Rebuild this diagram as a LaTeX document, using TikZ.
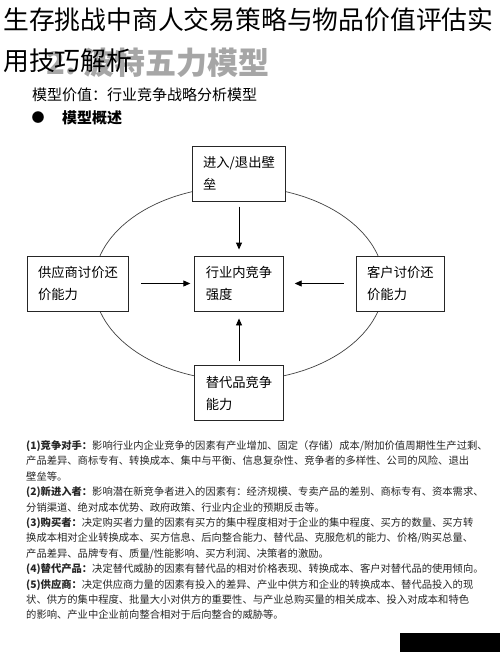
\documentclass[tikz,border=0pt]{standalone}
\usepackage{fontspec}
\setmainfont{Noto Sans CJK SC}
\usepackage{xcolor}
\usetikzlibrary{positioning, arrows.meta}

\begin{document}
\begin{tikzpicture}[
  x=1pt, y=-1pt,
  box/.style={draw=black!85, line width=0.9pt, fill=white, align=left, font=\fontsize{13.3}{22}\selectfont, inner xsep=11pt, inner ysep=0pt, minimum height=55pt},
  arr/.style={-{Triangle[length=7pt, width=6pt]}, line width=0.9pt},
  ring/.style={draw=black!75, line width=0.7pt},
  plain/.style={anchor=west, inner sep=0pt},
  para/.style={anchor=north west, inner sep=0pt, align=left, text=black!85, font=\fontsize{10.3}{15.4}\selectfont}
]
  \useasboundingbox (0,0) rectangle (500,652);
  \node[plain, anchor=east, text=black!35, font=\fontsize{31}{31}\selectfont\bfseries] (mark) at (270,63) {2.\ 波特五力模型};
  \node[plain, font=\fontsize{25.8}{26}\selectfont] (title) at (3,20) {生存挑战中商人交易策略与物品价值评估实};
  \node[plain, font=\fontsize{25.8}{26}\selectfont] (subtitle) at (3,61) {用技巧解析};
  \node[plain, font=\fontsize{15}{15}\selectfont] (value) at (32,95) {模型价值：行业竞争战略分析模型};
  \node[inner sep=0pt, font=\fontsize{13}{13}\selectfont] (dot) at (38,118) {●};
  \node[plain, font=\fontsize{15}{15}\selectfont\bfseries] (overview) at (62,118) {模型概述};

  \node[box] (core) at (239,283.5) {行业内竞争\\强度};
  \draw[ring] (core) ellipse [x radius=145pt, y radius=97pt];
  \node[box, above=54pt of core] (entry) {进入/退出壁\\垒};
  \node[box, below=54pt of core] (substitute) {替代品竞争\\能力};
  \node[box, left=65pt of core] (supplier) {供应商讨价还\\价能力};
  \node[box, right=72pt of core] (buyer) {客户讨价还\\价能力};
  \draw[arr, shorten <=5pt, shorten >=6pt] (entry) -- (core);
  \draw[arr, shorten <=4pt, shorten >=7pt] (substitute) -- (core);
  \draw[arr, shorten <=12pt, shorten >=4pt] (supplier) -- (core);
  \draw[arr, shorten <=12pt, shorten >=11pt] (buyer) -- (core);

  \node[para] (notes) at (26,440.5) {\textbf{(1)竞争对手：}影响行业内企业竞争的因素有产业增加、固定（存储）成本/附加价值周期性生产过剩、\\
    产品差异、商标专有、转换成本、集中与平衡、信息复杂性、竞争者的多样性、公司的风险、退出\\
    壁垒等。\\
    \textbf{(2)新进入者：}影响潜在新竞争者进入的因素有：经济规模、专卖产品的差别、商标专有、资本需求、\\
    分销渠道、绝对成本优势、政府政策、行业内企业的预期反击等。\\
    \textbf{(3)购买者：}决定购买者力量的因素有买方的集中程度相对于企业的集中程度、买方的数量、买方转\\
    换成本相对企业转换成本、买方信息、后向整合能力、替代品、克服危机的能力、价格/购买总量、\\
    产品差异、品牌专有、质量/性能影响、买方利润、决策者的激励。\\
    \textbf{(4)替代产品：}决定替代威胁的因素有替代品的相对价格表现、转换成本、客户对替代品的使用倾向。\\
    \textbf{(5)供应商：}决定供应商力量的因素有投入的差异、产业中供方和企业的转换成本、替代品投入的现\\
    状、供方的集中程度、批量大小对供方的重要性、与产业总购买量的相关成本、投入对成本和特色\\
    的影响、产业中企业前向整合相对于后向整合的威胁等。};
  \fill (400,633) rectangle (500,652);
\end{tikzpicture}
\end{document}
